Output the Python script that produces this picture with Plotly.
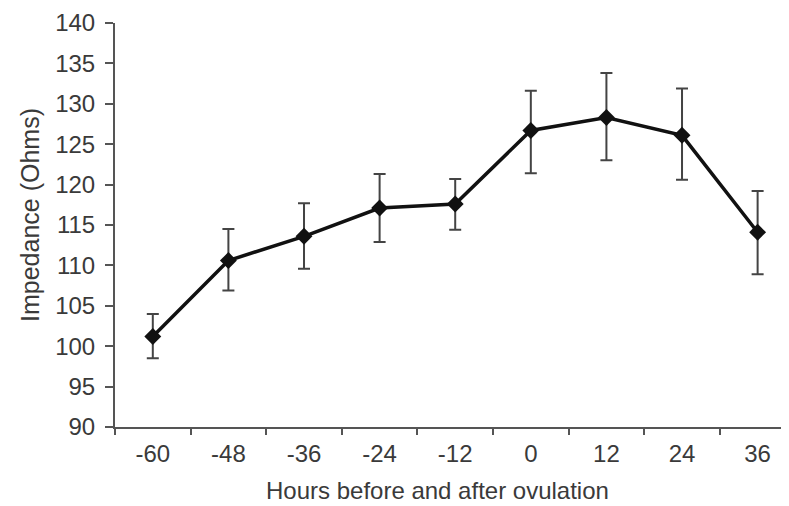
import plotly.graph_objects as go

hours = ["-60", "-48", "-36", "-24", "-12", "0", "12", "24", "36"]
impedance = [101.2, 110.6, 113.6, 117.1, 117.6, 126.7, 128.3, 126.1, 114.1]
upper = [104.0, 114.5, 117.7, 121.3, 120.7, 131.6, 133.8, 131.9, 119.2]
lower = [98.5, 106.9, 109.6, 112.9, 114.4, 121.4, 123.0, 120.6, 108.9]

err_plus = [u - m for u, m in zip(upper, impedance)]
err_minus = [m - l for m, l in zip(impedance, lower)]

FONT = "Liberation Sans, Arial, sans-serif"
TXT = "#3a3a3a"
FS = 24

# page body has an 8px default margin; figure is sized to fit the window
W, H = 781, 498
L, T, B, R = 107, 15, 79, 0
PW = W - L - R
PH = H - T - B

fig = go.Figure()
fig.add_trace(go.Scatter(
    x=hours, y=impedance, mode="lines+markers",
    line=dict(color="#111111", width=3.5),
    marker=dict(symbol="diamond", size=13, color="#111111"),
    error_y=dict(type="data", symmetric=False, array=err_plus, arrayminus=err_minus,
                 color="#444444", thickness=2, width=6),
    showlegend=False,
))

fig.update_layout(
    width=W, height=H,
    margin=dict(l=L, r=R, t=T, b=B, pad=0),
    paper_bgcolor="white", plot_bgcolor="white",
    font=dict(family=FONT, size=FS, color=TXT),
    xaxis=dict(
        type="category", range=[-0.5, 8.415],
        showline=True, linecolor="#555555", linewidth=2,
        ticks="outside", tickson="boundaries", ticklen=6, tickwidth=1.5, tickcolor="#555555",
        showgrid=False, zeroline=False,
        tickfont=dict(family=FONT, size=FS, color=TXT),
        ticklabelstandoff=4,
    ),
    yaxis=dict(
        range=[90, 140], tickvals=[90, 95, 100, 105, 110, 115, 120, 125, 130, 135, 140],
        showline=True, linecolor="#555555", linewidth=2,
        ticks="outside", ticklen=8, tickwidth=1.5, tickcolor="#555555",
        showgrid=False, zeroline=False,
        tickfont=dict(family=FONT, size=FS, color=TXT),
        ticklabelstandoff=5,
    ),
    annotations=[
        dict(text="Hours before and after ovulation", xref="paper", yref="paper",
             x=(437 - 115) / PW, y=-(491 - 427) / PH, xanchor="center", yanchor="middle",
             showarrow=False, font=dict(family=FONT, size=FS, color=TXT)),
        dict(text="Impedance (Ohms)", xref="paper", yref="paper",
             x=-(115 - 30) / PW, y=(427 - 215) / PH, xanchor="center", yanchor="middle",
             textangle=-90, showarrow=False, font=dict(family=FONT, size=FS + 1, color=TXT)),
    ],
)

fig.write_html("out.html")
